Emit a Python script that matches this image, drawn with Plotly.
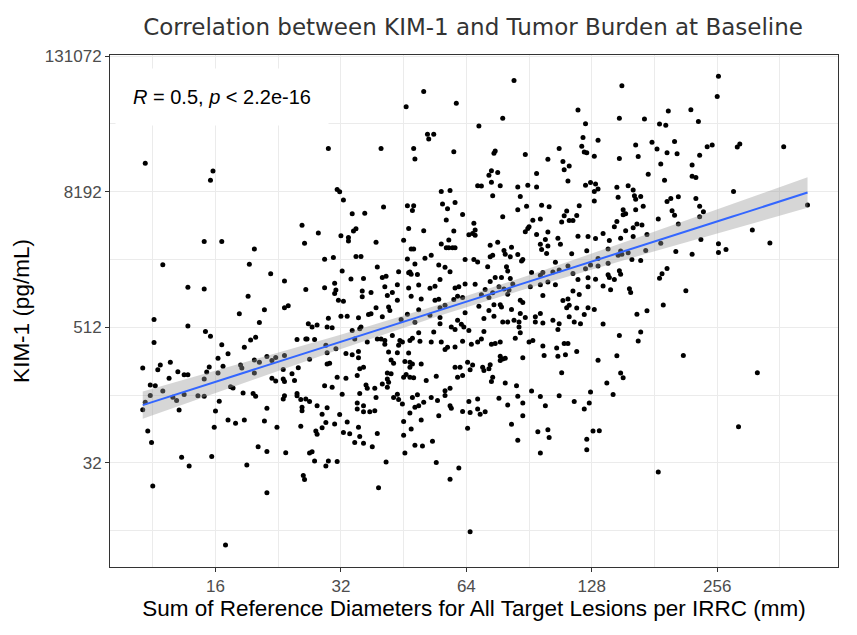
import math
import numpy as np
import plotly.graph_objects as go

# Values, in log2 units (x: sum of diameters in mm, y: KIM-1 in pg/mL)
sum_diam_log2 = [
    3.44, 3.98, 3.96, 4.90, 4.97,
    6.38, 5.66, 5.52, 5.92, 6.89, 6.29, 6.95, 6.10, 5.69, 5.74,
    5.70, 6.93, 5.32, 5.58, 5.59, 5.90, 6.23, 6.22, 6.47, 6.74,
    6.92, 6.94, 6.96, 6.65, 6.77, 6.82, 6.78, 6.20, 6.18, 6.25,
    6.56, 6.20, 6.09, 6.12, 6.27, 6.41, 6.49, 6.56, 6.81, 6.95,
    4.99,
    8.01, 7.24, 8.00, 7.22, 7.42, 7.61, 7.79, 7.54, 7.59, 7.85,
    7.05, 7.35, 7.48, 7.66, 7.52, 7.60, 7.68, 7.92, 7.96, 8.16,
    8.18, 8.53, 7.02, 7.22, 7.37, 7.86, 7.55, 7.80, 7.45, 7.80,
    7.83, 7.58, 6.99, 7.03, 7.05, 7.20, 7.29, 7.33,
    4.69, 4.82, 3.91, 4.05, 4.71, 4.31, 4.87, 4.94, 3.58, 4.27,
    4.44, 4.55, 4.95, 3.78, 3.91, 4.72, 4.87, 4.96, 4.95, 4.98,
    4.26, 4.58, 4.55, 4.39, 4.19, 3.51, 4.35, 3.78, 4.90, 4.74,
    4.77, 4.81, 4.89, 4.93,
    5.80, 5.87, 5.02, 6.21, 6.43, 5.34, 5.53, 5.58, 5.57, 5.81,
    5.85, 5.91, 6.41, 6.48, 6.60, 6.66, 6.80, 6.90, 5.09, 5.19,
    5.97, 6.29, 6.78, 6.88, 5.84, 6.53, 6.59, 6.76, 6.82, 6.85,
    6.06, 5.54, 5.66, 5.90, 6.07, 6.05, 6.02, 6.07, 5.12, 5.10,
    5.06, 5.06, 5.00, 6.49, 6.50, 6.47, 6.65, 6.56, 6.89, 6.97,
    5.28, 5.50, 5.80, 5.86, 5.84, 5.86, 5.89, 5.91, 6.19, 6.25,
    6.63, 6.73, 6.59, 6.65, 6.75, 5.56, 5.58, 6.30, 6.31, 6.36,
    6.41, 6.45, 6.44, 6.21, 6.19, 6.35, 6.60, 6.64, 6.84, 6.96,
    5.12, 5.16, 5.53, 5.67, 5.72, 5.99, 6.06, 6.09, 6.71, 5.01,
    5.29, 5.46, 5.54, 5.55, 5.59, 5.61, 5.56, 5.78, 5.83, 5.87,
    6.17, 6.32, 6.33, 6.52, 6.59, 6.61, 6.69, 6.74, 6.81, 6.95,
    6.85, 5.08, 5.18, 5.33, 5.36, 5.79, 6.23, 6.28, 6.35, 6.89,
    6.97, 5.35, 5.45, 5.54, 5.62, 5.71, 5.75, 5.91, 5.94, 5.99,
    6.07, 6.19, 6.15, 6.26, 6.30, 6.37, 6.51, 6.59, 6.65, 6.71,
    6.97, 5.17, 5.24, 5.17, 5.37, 5.41, 5.56, 5.64, 5.75, 5.78,
    5.90, 5.93, 5.97, 5.45, 6.12, 6.18, 6.21, 6.33, 6.34, 6.43,
    6.45, 6.61, 6.77, 6.81, 6.90, 6.85, 5.02, 5.38, 5.39, 5.28,
    5.48, 5.62, 5.79, 5.83, 5.99, 6.10, 6.18, 6.22, 6.27, 6.28,
    6.36, 6.43, 6.59, 6.55, 6.80, 6.82, 6.88, 6.97, 5.00, 5.05,
    5.14, 5.22, 5.24, 5.33, 5.53, 5.71, 5.79, 5.59, 5.93, 5.96,
    5.79, 6.14, 6.22, 6.29, 6.33, 6.38, 6.42, 6.47, 6.55, 6.61,
    6.69, 6.74, 6.82, 6.86, 6.91, 6.94,
    7.02, 8.13, 7.34, 7.39, 7.21, 7.02, 7.35, 7.60, 7.63, 7.69,
    7.83, 7.86, 7.89, 7.86, 7.64, 7.66, 7.41, 7.35, 7.25, 7.27,
    7.25, 7.53, 7.20, 7.18, 7.36, 7.40, 7.69, 7.33, 7.27, 7.09,
    7.03, 7.23, 7.33, 7.44, 7.14, 8.28, 7.87, 7.55, 8.01, 8.42,
    7.13, 7.23, 7.29, 7.21, 7.24, 7.43, 7.67, 7.80, 8.01, 8.07,
    7.05, 7.32, 7.39, 7.13, 7.05, 6.99, 8.72, 7.60, 7.56, 7.54,
    7.22, 7.23, 7.13, 7.14, 7.18, 7.03, 7.09, 7.15, 7.30, 7.31,
    7.75, 7.57, 7.44, 7.36, 7.02, 7.09,
    3.92, 3.96, 3.51, 4.05, 4.32, 4.28, 4.23, 4.10, 4.02, 3.64,
    3.56, 3.42, 3.54, 3.70, 3.63, 3.75, 3.78, 4.06, 3.95, 3.93,
    4.02, 3.91, 3.48, 3.52, 3.58, 3.48, 3.44, 3.42, 3.66, 3.69,
    3.71, 3.75, 3.86, 3.91, 4.12, 4.14, 4.20, 4.21, 4.31, 4.35,
    4.41, 4.45, 4.48, 4.55, 4.31, 4.22, 4.30, 4.32, 4.45, 4.48,
    4.54, 4.54, 4.55, 4.61, 4.63, 4.66, 4.65, 4.72, 4.73, 4.79,
    4.75, 4.88, 4.96, 4.89, 4.89, 4.91, 4.97, 4.87, 4.93, 4.55,
    4.54, 4.65, 4.65, 4.68, 4.69, 4.69, 4.72, 4.75, 4.81, 4.89,
    4.99, 4.85, 4.88, 4.95, 4.85, 4.80, 4.81, 4.68, 4.41, 4.39,
    4.49, 4.10, 4.16, 4.23, 4.03, 4.00, 3.99, 3.46, 3.49, 4.34,
    4.41, 4.56, 4.75, 4.77, 3.73, 3.97,
    5.09, 5.15, 5.11, 5.16, 5.41, 5.29, 5.32, 5.35, 5.35, 5.21,
    5.47, 5.46, 5.49, 5.55, 5.57, 5.62, 5.63, 5.72, 5.74, 5.80,
    5.88, 5.91, 5.98, 6.02, 6.14, 5.97, 6.04, 6.09, 6.12, 6.20,
    6.23, 6.27, 6.39, 6.43, 6.42, 6.53, 6.50, 6.73, 6.61, 6.72,
    6.78, 6.81, 6.88, 5.04, 5.09, 5.14, 5.14, 5.38, 5.45, 5.54,
    5.83, 5.85, 5.91, 5.40, 5.42, 5.51, 5.55, 5.57, 5.55, 5.64,
    5.18, 5.15, 5.13, 5.04, 5.37, 5.40, 5.37, 5.38, 5.33, 5.37,
    5.50, 5.52, 5.55, 5.58, 5.68, 5.76, 5.91, 5.95, 5.93, 5.97,
    6.01, 6.05, 6.03, 6.13, 6.14, 6.19, 6.18, 6.27, 6.29, 6.31,
    6.27, 6.45, 6.62, 6.73, 6.79, 6.76, 6.21, 6.20, 6.31, 6.40,
    5.20, 5.21, 5.27, 5.01, 5.15, 5.28, 5.42, 5.45, 5.46, 5.49,
    5.57, 5.61, 5.59, 5.62, 5.66, 5.72, 5.77, 5.83, 5.83, 5.87,
    5.87, 5.88, 5.13, 5.13, 5.18, 5.18, 5.23, 5.27, 5.55,
    5.78, 5.64, 5.97, 6.02, 6.03, 6.09, 6.09, 6.11, 6.15, 6.26,
    6.33, 6.41, 6.45, 6.45, 6.52, 6.59, 6.63, 6.74, 6.86, 6.94,
    5.05, 5.14, 5.02, 5.07, 5.15, 5.11, 5.18, 5.25,
    5.29, 5.50, 5.50, 5.56, 5.59, 5.65, 5.73, 5.51, 6.01, 6.36,
    6.41, 6.57, 6.65, 6.66, 6.59, 6.96, 6.96,
    7.39, 7.22, 7.37, 7.05, 7.20, 7.73, 8.32, 7.23, 7.25, 7.12,
    6.99, 7.17, 6.98, 8.17, 7.01, 7.06,
    3.50, 3.79, 4.25, 4.41, 4.70, 4.71, 4.79, 4.88, 4.90, 4.97,
    4.08,
    5.36, 5.30, 5.76, 5.87, 5.94, 6.03,
    7.53,
]

kim1_log2 = [
    13.84, 13.61, 13.34, 14.28, 13.07,
    16.28, 15.96, 15.51, 15.61, 15.41, 15.17, 15.01, 14.94, 14.70, 14.70,
    14.56, 14.60, 14.28, 14.28, 13.97, 14.18, 14.20, 14.14, 14.10, 14.28,
    14.34, 14.17, 14.15, 13.96, 13.89, 13.76, 13.65, 13.62, 13.49, 13.57,
    13.54, 13.28, 13.18, 13.17, 13.18, 13.14, 13.19, 13.14, 13.32, 13.19,
    13.00,
    16.41, 16.13, 15.81, 15.17, 15.15, 15.38, 15.42, 15.00, 14.96, 15.07,
    14.52, 14.38, 14.46, 14.48, 14.26, 14.15, 14.12, 14.33, 14.38, 14.32,
    14.41, 14.33, 14.05, 13.98, 14.04, 14.08, 13.82, 13.79, 13.52, 13.46,
    13.42, 13.34, 13.27, 13.23, 13.08, 13.13, 13.18, 13.05,
    12.01, 11.78, 11.53, 11.53, 11.48, 11.31, 11.01, 11.06, 10.85, 10.86,
    10.58, 10.37, 10.30, 10.18, 10.13, 10.12, 10.17, 10.10, 10.00, 9.80,
    9.92, 9.64, 9.58, 9.52, 9.40, 9.23, 9.14, 9.04, 9.27, 9.11,
    9.01, 9.07, 9.01, 8.99,
    13.01, 13.04, 12.76, 12.88, 12.86, 12.55, 12.59, 12.59, 12.45, 12.64,
    12.50, 12.68, 12.47, 12.57, 12.60, 12.56, 12.43, 12.59, 12.35, 12.37,
    12.33, 12.26, 12.29, 12.30, 12.17, 12.16, 12.20, 12.11, 12.15, 12.15,
    12.07, 11.92, 11.85, 11.84, 11.87, 11.77, 11.73, 11.72, 11.91, 11.84,
    11.65, 11.55, 11.70, 11.92, 11.97, 11.82, 11.81, 11.74, 11.69, 11.68,
    11.51, 11.57, 11.46, 11.58, 11.35, 11.35, 11.35, 11.35, 11.42, 11.51,
    11.59, 11.63, 11.45, 11.40, 11.45, 11.31, 11.31, 11.27, 11.16, 11.36,
    11.15, 11.00, 10.96, 11.13, 11.08, 11.08, 11.30, 11.18, 11.17, 11.26,
    11.09, 11.09, 11.02, 11.04, 11.13, 11.00, 11.00, 10.93, 10.92, 10.66,
    10.78, 10.64, 10.61, 10.63, 10.87, 10.56, 10.57, 10.84, 10.77, 10.64,
    10.79, 10.79, 10.66, 10.62, 10.54, 10.62, 10.63, 10.69, 10.81, 10.73,
    10.59, 10.43, 10.44, 10.47, 10.51, 10.41, 10.47, 10.47, 10.44, 10.41,
    10.46, 10.20, 10.26, 10.16, 10.25, 10.15, 10.21, 10.16, 10.20, 10.28,
    10.27, 10.35, 10.12, 10.20, 10.13, 10.28, 10.20, 10.26, 10.34, 10.26,
    10.20, 10.07, 10.03, 9.90, 9.94, 10.03, 9.92, 9.84, 9.80, 9.83,
    9.82, 9.92, 9.88, 9.80, 9.96, 9.88, 10.02, 9.98, 10.10, 9.80,
    9.73, 9.94, 9.79, 9.84, 9.97, 10.07, 9.77, 9.60, 9.50, 9.58,
    9.23, 9.52, 9.58, 9.65, 9.43, 9.62, 9.50, 9.67, 9.67, 9.60,
    9.53, 9.41, 9.41, 9.31, 9.58, 9.65, 9.57, 9.58, 9.33, 9.33,
    9.28, 9.38, 9.40, 9.31, 9.39, 9.36, 9.29, 9.15, 9.21, 9.09,
    9.11, 9.26, 9.33, 9.16, 9.16, 9.21, 9.16, 9.29, 9.16, 9.13,
    9.21, 9.11, 9.31, 9.16, 9.11, 9.38,
    13.01, 13.01, 12.88, 12.86, 12.84, 12.73, 12.78, 12.71, 12.80, 12.85,
    12.80, 12.57, 12.41, 12.26, 12.44, 12.31, 12.57, 12.47, 12.47, 12.35,
    12.32, 12.20, 12.12, 11.97, 12.05, 12.02, 12.05, 11.94, 11.85, 11.77,
    11.62, 11.63, 11.68, 11.74, 11.56, 11.87, 11.59, 11.48, 11.47, 11.49,
    11.31, 11.25, 11.20, 11.13, 11.16, 11.27, 11.24, 11.16, 11.21, 11.30,
    11.03, 11.00, 10.97, 10.89, 10.81, 10.84, 12.61, 10.74, 10.58, 10.45,
    10.67, 10.57, 10.55, 10.47, 10.41, 10.42, 10.22, 10.11, 10.14, 10.03,
    10.08, 9.66, 9.49, 9.39, 9.53, 9.10,
    8.88, 8.74, 8.55, 8.49, 8.71, 8.63, 8.41, 8.22, 8.09, 7.97,
    7.89, 7.80, 7.75, 7.69, 7.50, 7.60, 7.60, 7.85, 7.83, 7.68,
    7.65, 7.48, 7.30, 7.28, 7.12, 6.99, 6.79, 6.57, 6.94, 6.84,
    6.56, 7.02, 6.98, 6.97, 7.25, 7.21, 7.89, 7.80, 8.04, 7.97,
    8.14, 8.02, 8.11, 8.17, 7.65, 7.06, 7.05, 6.97, 7.50, 7.42,
    7.76, 7.48, 7.40, 7.63, 7.43, 7.81, 8.64, 8.66, 8.66, 8.64,
    8.06, 8.47, 8.37, 8.25, 7.92, 7.94, 7.53, 7.28, 7.23, 6.98,
    6.89, 7.05, 6.98, 6.87, 6.64, 6.54, 6.89, 6.81, 6.69, 6.63,
    6.43, 6.44, 6.19, 6.15, 6.04, 5.94, 5.85, 6.08, 6.61, 6.24,
    6.05, 6.27, 6.17, 6.27, 6.82, 6.53, 6.05, 5.94, 5.60, 5.48,
    5.34, 5.30, 5.29, 5.33, 5.17, 5.19,
    8.91, 8.96, 8.66, 9.01, 8.76, 8.66, 8.66, 8.61, 8.50, 8.57,
    8.61, 8.47, 8.57, 8.61, 8.68, 8.84, 8.59, 8.57, 8.86, 8.57,
    9.01, 8.94, 9.01, 8.91, 8.88, 8.59, 8.50, 8.57, 8.66, 8.50,
    8.52, 8.57, 8.68, 8.84, 9.01, 8.61, 8.57, 8.94, 8.45, 8.39,
    8.52, 8.52, 8.29, 8.23, 8.19, 8.29, 8.10, 8.27, 8.25, 8.24,
    8.35, 8.41, 8.42, 8.04, 7.94, 7.99, 7.97, 7.92, 7.82, 7.92,
    7.82, 7.78, 7.58, 7.50, 7.65, 7.63, 7.48, 7.38, 7.33, 7.23,
    7.53, 7.61, 7.53, 7.51, 7.43, 7.56, 7.82, 7.82, 7.53, 7.58,
    7.97, 7.89, 7.75, 7.82, 7.73, 7.90, 7.78, 8.15, 8.07, 8.09,
    8.02, 8.10, 8.17, 8.15, 8.19, 7.66, 7.53, 7.40, 7.36, 7.28,
    7.30, 7.20, 7.20, 7.03, 7.05, 6.93, 6.93, 7.03, 6.87, 6.74,
    6.93, 7.01, 6.64, 6.69, 6.79, 6.93, 6.84, 7.13, 6.99, 7.20,
    6.69, 6.61, 6.77, 6.59, 6.69, 6.51, 6.51, 6.54, 6.47,
    6.39, 6.27, 6.52, 6.81, 6.49, 6.89, 6.59, 6.44, 6.51, 6.91,
    6.71, 6.97, 6.77, 6.39, 7.12, 6.96, 6.69, 6.98, 6.81, 6.59,
    6.21, 6.05, 5.90, 5.86, 5.78, 5.60, 5.58, 5.48,
    5.87, 6.22, 5.82, 6.00, 5.52, 5.50, 5.64, 5.29, 6.02, 6.14,
    5.67, 5.92, 5.98, 5.75, 5.29, 5.70, 5.39,
    8.86, 8.76, 8.60, 8.03, 8.16, 8.17, 7.66, 7.65, 7.51, 7.36,
    7.09, 7.02, 6.77, 6.07, 5.94, 5.95,
    4.32, 4.91, 4.94, 4.12, 4.63, 4.51, 5.06, 4.91, 5.06, 5.04,
    2.58,
    5.03, 4.27, 5.01, 4.52, 4.85, 2.97,
    4.73,
]

x_tick_values = [16, 32, 64, 128, 256]
y_tick_values = [32, 512, 8192, 131072]

title_text = "Correlation between KIM-1 and Tumor Burden at Baseline"
x_title = "Sum of Reference Diameters for All Target Lesions per IRRC (mm)"
y_title = "KIM-1 (pg/mL)"
stat_label = "<i>R</i> = 0.5, <i>p</i> &lt; 2.2e-16"

lx = np.array(sum_diam_log2)
ly = np.array(kim1_log2)
n = min(len(lx), len(ly))
lx, ly = lx[:n], ly[:n]
sum_diam_mm = 2.0 ** lx
kim1 = 2.0 ** ly

# linear fit in log space (as geom_smooth(method = "lm") on transformed scales)
slope, intercept = np.polyfit(lx, ly, 1)
xs = np.linspace(lx.min(), lx.max(), 80)
fit = intercept + slope * xs
resid = ly - (intercept + slope * lx)
s = math.sqrt(np.sum(resid ** 2) / (n - 2))
sxx = np.sum((lx - lx.mean()) ** 2)
se = s * np.sqrt(1.0 / n + (xs - lx.mean()) ** 2 / sxx)
tq = 1.963
lo, hi = fit - tq * se, fit + tq * se

fig = go.Figure()
fig.add_trace(go.Scatter(x=sum_diam_mm, y=kim1, mode="markers",
                         marker=dict(color="black", size=5, line=dict(width=0)),
                         showlegend=False, hoverinfo="skip"))
fig.add_trace(go.Scatter(x=2.0 ** xs, y=2.0 ** lo, mode="lines",
                         line=dict(width=0, color="rgba(0,0,0,0)"),
                         showlegend=False, hoverinfo="skip"))
fig.add_trace(go.Scatter(x=2.0 ** xs, y=2.0 ** hi, mode="lines",
                         line=dict(width=0, color="rgba(0,0,0,0)"),
                         fill="tonexty", fillcolor="rgba(153,153,153,0.4)",
                         showlegend=False, hoverinfo="skip"))
fig.add_trace(go.Scatter(x=2.0 ** xs, y=2.0 ** fit, mode="lines",
                         line=dict(color="#3366FF", width=2),
                         showlegend=False, hoverinfo="skip"))

L2 = math.log10(2)
grid_major = "#EBEBEB"
axis_common = dict(
    showline=True, linecolor="#333333", linewidth=1, mirror=True,
    ticks="outside", ticklen=4, tickwidth=1, tickcolor="#333333",
    showgrid=True, gridcolor=grid_major, gridwidth=1.1, zeroline=False,
    tickfont=dict(family="Liberation Sans, Arial, sans-serif", size=17, color="#4D4D4D"),
)

fig.update_layout(
    width=857, height=635,
    margin=dict(l=110, r=19, t=55, b=68),
    paper_bgcolor="white", plot_bgcolor="white",
    title=dict(text=title_text, x=0.552, xanchor="center", y=1 - 27 / 635, yanchor="middle",
               yref="container",
               font=dict(family="DejaVu Sans, sans-serif", size=23, color="#333333")),
    xaxis=dict(type="log", range=[3.159 * L2, 8.963 * L2],
               tickvals=x_tick_values, ticktext=[str(v) for v in x_tick_values],
               minor=dict(tickvals=[2 ** (k + 0.5) for k in range(3, 9)], showgrid=True,
                          gridcolor=grid_major, gridwidth=0.6, ticks=""),
               title=dict(text=x_title, standoff=4,
                          font=dict(family="Liberation Sans, Arial, sans-serif", size=22.5, color="black")),
               **axis_common),
    yaxis=dict(type="log", range=[1.93 * L2, 17.035 * L2],
               tickvals=y_tick_values, ticktext=[str(v) for v in y_tick_values],
               minor=dict(tickvals=[2 ** k for k in (3, 7, 11, 15)], showgrid=True,
                          gridcolor=grid_major, gridwidth=0.6, ticks=""),
               title=dict(text=y_title, standoff=8,
                          font=dict(family="Liberation Sans, Arial, sans-serif", size=22.5, color="black")),
               **axis_common),
    annotations=[dict(text=stat_label, xref="paper", yref="paper", x=0.007, y=0.918,
                      xanchor="left", yanchor="middle", showarrow=False,
                      bgcolor="white", borderpad=17,
                      font=dict(family="Liberation Sans, Arial, sans-serif", size=20, color="black"))],
)

fig.write_html("out.html")
